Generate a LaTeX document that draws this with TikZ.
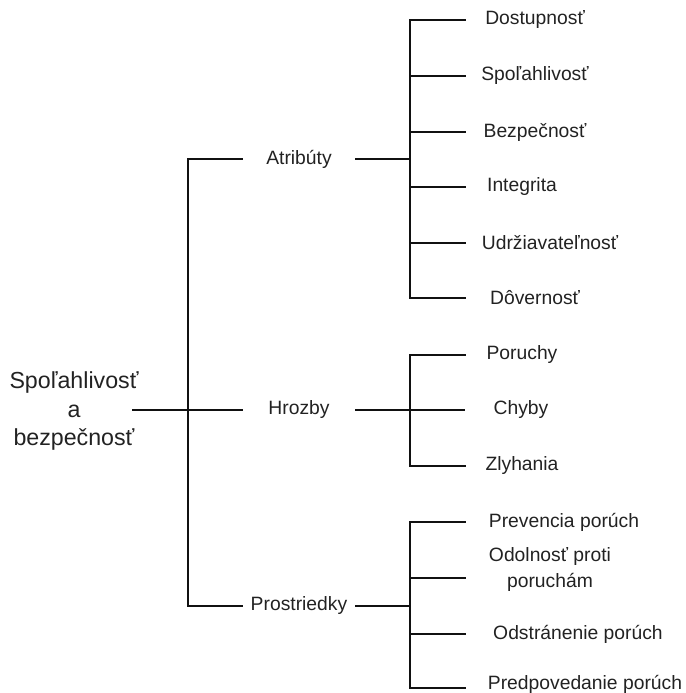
\documentclass[tikz,border=0pt]{standalone}
\usepackage{fontspec}
\setmainfont{Liberation Sans}
\usetikzlibrary{positioning}
\definecolor{treeline}{HTML}{111111}
\definecolor{treetext}{HTML}{222222}

\begin{document}
\begin{tikzpicture}[
  x=1pt, y=-1pt,
  rootlbl/.style={align=center, text=treetext, inner sep=0pt,
                  font=\fontsize{23.2}{28.5}\selectfont},
  catlbl/.style={align=center, text=treetext, inner sep=0pt,
                 minimum width=112pt, font=\fontsize{19.3}{23}\selectfont},
  leaflbl/.style={align=center, text=treetext, inner sep=0pt,
                  font=\fontsize{19.3}{26}\selectfont},
  link/.style={draw=treeline, line width=2.4pt}
]
\useasboundingbox (0,0) rectangle (685,693);

% root and the three groups
\node[rootlbl] (root) at (74,411) {Spoľahlivosť\\a\\bezpečnosť};
\node[catlbl] (atr) at (299,159) {Atribúty};
\node[catlbl] (hro) at (299,410) {Hrozby};
\node[catlbl] (pro) at (299,606) {Prostriedky};

% leaves
\node[leaflbl, minimum width=138pt] (dos)  at (535,20)  {Dostupnosť};
\node[leaflbl, minimum width=138pt] (spo)  at (535,76)  {Spoľahlivosť};
\node[leaflbl, minimum width=138pt] (bez)  at (535,132) {Bezpečnosť};
\node[leaflbl, minimum width=112pt] (int)  at (522,187) {Integrita};
\node[leaflbl, minimum width=168pt] (udr)  at (550,243) {Udržiavateľnosť};
\node[leaflbl, minimum width=138pt] (dov)  at (535,298) {Dôvernosť};
\node[leaflbl, minimum width=112pt] (por)  at (522,355) {Poruchy};
\node[leaflbl, minimum width=112pt] (chy)  at (521,410) {Chyby};
\node[leaflbl, minimum width=112pt] (zly)  at (522,466) {Zlyhania};
\node[leaflbl, minimum width=196pt] (pre)  at (564,522) {Prevencia porúch};
\node[leaflbl, minimum width=168pt] (odo)  at (550,570) {Odolnosť proti\\poruchám};
\node[leaflbl, minimum width=224pt] (ods)  at (578,634) {Odstránenie porúch};
\node[leaflbl, minimum width=238pt] (pred) at (585,684) {Predpovedanie porúch};

% joints
\coordinate (rootout) at (132,410);
\coordinate (s0) at (188,410);
\coordinate (sa) at (410,159);
\coordinate (sh) at (410,410);
\coordinate (sp) at (410,606);

\draw[link] (rootout) -- (s0);
\draw[link] (atr.west) -| (s0) |- (pro.west);
\draw[link] (s0) -- (hro.west);

\draw[link] (atr.east) -- (sa);
\draw[link] (dos.west) -| (sa) |- (dov.west);
\draw[link] (sa) |- (spo.west);
\draw[link] (sa) |- (bez.west);
\draw[link] (sa) |- (int.west);
\draw[link] (sa) |- (udr.west);

\draw[link] (hro.east) -- (sh);
\draw[link] (por.west) -| (sh) |- (zly.west);
\draw[link] (sh) -- (chy.west);

\draw[link] (pro.east) -- (sp);
\draw[link] (pre.west) -| (sp) |- ([yshift=-8pt]odo.west);
\draw[link] (sp) |- (ods.west);
\draw[link] (sp) |- ([yshift=-4pt]pred.west);
\end{tikzpicture}
\end{document}
